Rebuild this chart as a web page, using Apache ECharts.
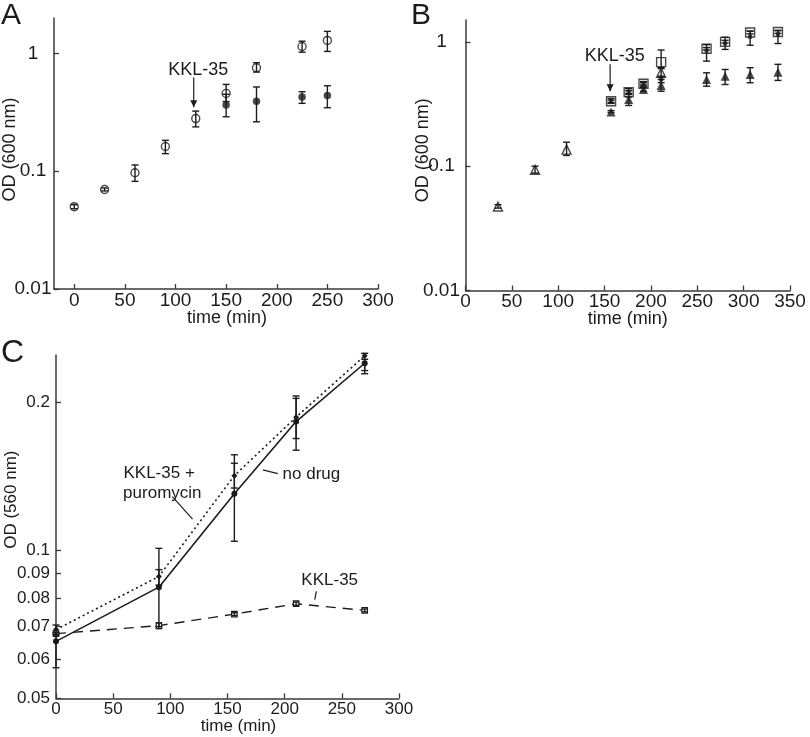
<!DOCTYPE html>
<html><head><meta charset="utf-8">
<script src="https://cdn.jsdelivr.net/npm/echarts@6/dist/echarts.min.js"></script>
<style>html,body{margin:0;padding:0;background:#fff}#c{width:810px;height:737px}</style>
</head><body><div id="c"></div>
<script>
// ---------- Panel A ----------
const timeA = [0, 30, 60, 90, 120, 150, 180, 225, 250];
const odA_control = [0.050, 0.070, 0.097, 0.162, 0.280, 0.458, 0.756, 1.146, 1.29];
const odA_control_lo = [0.048, 0.068, 0.082, 0.141, 0.238, 0.39, 0.695, 1.025, 1.04];
const odA_control_hi = [0.052, 0.072, 0.113, 0.183, 0.324, 0.546, 0.834, 1.27, 1.54];
const timeA_drug = [150, 180, 225, 250];
const odA_drug = [0.365, 0.392, 0.427, 0.44];
const odA_drug_lo = [0.29, 0.263, 0.377, 0.346];
const odA_drug_hi = [0.45, 0.519, 0.473, 0.532];
const ticksA_x = [0, 50, 100, 150, 200, 250, 300];
const ticksA_y = [0.01, 0.1, 1];

// ---------- Panel B ----------
const timeB_early = [35, 75, 109, 211];
const odB_openTri = [0.0474, 0.0937, 0.136, 0.564];
const odB_openTri_lo = [0.046, 0.088, 0.122, 0.52];
const odB_openTri_hi = [0.049, 0.1, 0.156, 0.61];
const timeB_late = [157, 176, 192, 211, 260, 280, 307, 337];
const odB_openSq = [0.333, 0.394, 0.46, 0.687, 0.881, 1.0, 1.19, 1.2];
const odB_openSq_lo = [0.325, 0.385, 0.45, 0.62, 0.86, 0.98, 1.16, 1.17];
const odB_openSq_hi = [0.34, 0.405, 0.47, 0.86, 0.9, 1.03, 1.22, 1.23];
const odB_smallSq = [0.333, 0.39, 0.46, 0.5, 0.85, 0.97, 1.1, 1.15];
const odB_smallSq_lo = [0.32, 0.36, 0.44, 0.47, 0.7, 0.87, 0.94, 0.97];
const odB_smallSq_hi = [0.35, 0.42, 0.48, 0.53, 0.95, 1.09, 1.22, 1.24];
const odB_fillTri = [0.273, 0.344, 0.414, 0.446, 0.498, 0.53, 0.547, 0.571];
const odB_fillTri_lo = [0.27, 0.308, 0.40, 0.401, 0.44, 0.454, 0.469, 0.49];
const odB_fillTri_hi = [0.28, 0.377, 0.43, 0.498, 0.564, 0.6, 0.62, 0.66];
const ticksB_x = [0, 50, 100, 150, 200, 250, 300, 350];
const ticksB_y = [0.01, 0.1, 1];

// ---------- Panel C ----------
const timeC = [0, 90, 156, 210, 270];
const odC_noDrug = [0.0653, 0.0842, 0.1304, 0.183, 0.2405];
const odC_noDrug_lo = [0.0577, 0.070, 0.1044, 0.160, 0.229];
const odC_noDrug_hi = [0.068, 0.101, 0.1566, 0.2063, 0.245];
const odC_kklPuro = [0.069, 0.0885, 0.142, 0.1868, 0.249];
const odC_kklPuro_lo = [0.0675, 0.085, 0.134, 0.169, 0.2324];
const odC_kklPuro_hi = [0.0705, 0.0914, 0.1505, 0.204, 0.252];
const odC_kkl = [0.0677, 0.0703, 0.0742, 0.0779, 0.0755];
const odC_kkl_lo = [0.0672, 0.0693, 0.0737, 0.0773, 0.0750];
const odC_kkl_hi = [0.0682, 0.0712, 0.0747, 0.0785, 0.0760];
const ticksC_x = [0, 50, 100, 150, 200, 250, 300];
const ticksC_y = [0.05, 0.06, 0.07, 0.08, 0.09, 0.1, 0.2];

const FONT = 'Liberation Sans, Arial, sans-serif';
const INK = '#1c1c1c';
const AXC = '#3a3a3a';

function zip(xs, ys) { return xs.map((x, i) => [x, ys[i]]); }
function fmt(v) { return String(Number(Number(v).toPrecision(6))); }

function errSeries(axisIdx, xs, lo, hi, cap) {
  return {
    type: 'custom', xAxisIndex: axisIdx, yAxisIndex: axisIdx, z: 5, clip: false,
    encode: { x: 0, y: [1, 2] },
    data: xs.map((x, i) => [x, lo[i], hi[i]]),
    renderItem: function (params, api) {
      const a = api.coord([api.value(0), api.value(1)]);
      const b = api.coord([api.value(0), api.value(2)]);
      const st = { stroke: INK, lineWidth: 1.4 };
      return { type: 'group', children: [
        { type: 'line', shape: { x1: a[0], y1: a[1], x2: b[0], y2: b[1] }, style: st },
        { type: 'line', shape: { x1: a[0] - cap, y1: a[1], x2: a[0] + cap, y2: a[1] }, style: st },
        { type: 'line', shape: { x1: b[0] - cap, y1: b[1], x2: b[0] + cap, y2: b[1] }, style: st }
      ]};
    }
  };
}

function annotSeries(axisIdx, items, fontSize) {
  return {
    type: 'custom', xAxisIndex: axisIdx, yAxisIndex: axisIdx, z: 6, clip: false,
    encode: { x: 0, y: 1 },
    data: items.map(it => [it.x, it.y]),
    renderItem: function (params, api) {
      const it = items[params.dataIndex];
      if (it.kind === 'text') {
        const p = api.coord([it.x, it.y]);
        return { type: 'text', x: p[0], y: p[1], style: { text: it.text, fill: INK, font: fontSize + 'px ' + FONT, textAlign: 'center', textVerticalAlign: 'middle' } };
      }
      const p1 = api.coord([it.x, it.y]);
      const p2 = api.coord([it.x2, it.y2]);
      const children = [{ type: 'line', shape: { x1: p1[0], y1: p1[1], x2: p2[0], y2: p2[1] }, style: { stroke: INK, lineWidth: 1.2 } }];
      if (it.kind === 'arrow') {
        children.push({ type: 'polygon', shape: { points: [[p2[0] - 3.5, p2[1] - 7], [p2[0] + 3.5, p2[1] - 7], [p2[0], p2[1]]] }, style: { fill: INK } });
      }
      return { type: 'group', children };
    }
  };
}

const annotA = [
  { kind: 'text', text: 'KKL-35', x: 122.5, y: 0.718 },
  { kind: 'arrow', x: 118, y: 0.626, x2: 118, y2: 0.35 }
];
const annotB = [
  { kind: 'text', text: 'KKL-35', x: 161, y: 0.764 },
  { kind: 'arrow', x: 156, y: 0.66, x2: 156, y2: 0.40 }
];
const annotC = [
  { kind: 'text', text: 'KKL-35 +', x: 90.2, y: 0.1437 },
  { kind: 'text', text: 'puromycin', x: 93, y: 0.1308 },
  { kind: 'line', x: 101.8, y: 0.1287, x2: 119.4, y2: 0.1158 },
  { kind: 'text', text: 'no drug', x: 223.4, y: 0.1432 },
  { kind: 'line', x: 180.9, y: 0.1459, x2: 194, y2: 0.1434 },
  { kind: 'text', text: 'KKL-35', x: 239.4, y: 0.0869 },
  { kind: 'line', x: 227.7, y: 0.0825, x2: 226.3, y2: 0.0794 }
];

function xAxis(gi, min, max, ticks, fs, nfs, name, margin, gap, shift) {
  return {
    type: 'value', gridIndex: gi, min, max,
    name, nameLocation: 'middle', nameGap: gap, nameMoveOverlap: false,
    nameTextStyle: { fontFamily: FONT, fontSize: nfs, color: INK, padding: [0, 0, 0, shift] },
    axisLine: { show: true, onZero: false, lineStyle: { color: AXC, width: 1.5 } },
    axisTick: { show: true, inside: true, length: 5, customValues: ticks, lineStyle: { color: AXC, width: 1.3 } },
    axisLabel: { customValues: ticks, fontFamily: FONT, fontSize: fs, color: INK, margin, formatter: v => fmt(v) },
    splitLine: { show: false }
  };
}
function yAxis(gi, min, max, ticks, fs, nfs, name, margin, gap, align, shift) {
  return {
    type: 'log', logBase: 10, gridIndex: gi, min, max,
    name, nameLocation: 'middle', nameGap: gap, nameMoveOverlap: false,
    nameTextStyle: { fontFamily: FONT, fontSize: nfs, color: INK, padding: [0, 0, 0, shift] },
    axisLine: { show: true, onZero: false, lineStyle: { color: AXC, width: 1.5 } },
    axisTick: { show: true, inside: true, length: 5, customValues: ticks, lineStyle: { color: AXC, width: 1.3 } },
    axisLabel: { customValues: ticks, fontFamily: FONT, fontSize: fs, color: INK, margin, align, formatter: v => fmt(v) },
    minorTick: { show: false },
    splitLine: { show: false }
  };
}

const openStyle = { color: 'rgba(255,255,255,0)', borderColor: INK, borderWidth: 1.4 };
const fillStyle = { color: INK, borderColor: INK, borderWidth: 0 };

const option = {
  animation: false,
  backgroundColor: '#fff',
  grid: [
    { left: 54, top: 18, width: 324, height: 271, outerBoundsMode: 'none', containLabel: false },
    { left: 465.5, top: 20, width: 324.5, height: 270.5, outerBoundsMode: 'none', containLabel: false },
    { left: 56, top: 355, width: 343, height: 343.3, outerBoundsMode: 'none', containLabel: false }
  ],
  xAxis: [
    xAxis(0, -20, 300, ticksA_x, 19, 18, 'time (min)', 2, 20, 22),
    xAxis(1, 0, 350, ticksB_x, 19, 18, 'time (min)', 2, 20, 0),
    xAxis(2, 0, 300, ticksC_x, 17, 17, 'time (min)', 3, 20, 22)
  ],
  yAxis: [
    yAxis(0, 0.01, 2, ticksA_y, 19, 18, 'OD (600 nm)', 21, 35, 'center', 8),
    yAxis(1, 0.01, 1.5, ticksB_y, 19, 18, 'OD (600 nm)', 24, 33, 'center', 10),
    yAxis(2, 0.05, 0.25, ticksC_y, 17, 17, 'OD (560 nm)', 6, 36, 'right', 54)
  ],
  graphic: [
    { type: 'text', left: 1, top: 1, style: { text: 'A', font: '30px ' + FONT, fill: INK } },
    { type: 'text', left: 411, top: 1, style: { text: 'B', font: '30px ' + FONT, fill: INK } },
    { type: 'text', left: 1, top: 337, style: { text: 'C', font: '32px ' + FONT, fill: INK } }
  ],
  series: [
    // Panel A
    errSeries(0, timeA, odA_control_lo, odA_control_hi, 3.5),
    errSeries(0, timeA_drug, odA_drug_lo, odA_drug_hi, 3.5),
    { type: 'scatter', xAxisIndex: 0, yAxisIndex: 0, symbol: 'circle', symbolSize: 8, z: 4, itemStyle: openStyle, data: zip(timeA, odA_control) },
    { type: 'scatter', xAxisIndex: 0, yAxisIndex: 0, symbol: 'circle', symbolSize: 7.5, z: 4, itemStyle: fillStyle, data: zip(timeA_drug, odA_drug) },
    annotSeries(0, annotA, 18),
    // Panel B
    errSeries(1, timeB_early, odB_openTri_lo, odB_openTri_hi, 3.5),
    errSeries(1, timeB_late, odB_openSq_lo, odB_openSq_hi, 3.5),
    errSeries(1, timeB_late, odB_smallSq_lo, odB_smallSq_hi, 3.5),
    errSeries(1, timeB_late, odB_fillTri_lo, odB_fillTri_hi, 3.5),
    { type: 'scatter', xAxisIndex: 1, yAxisIndex: 1, symbol: 'triangle', symbolSize: 9, z: 4, itemStyle: openStyle, data: zip(timeB_early, odB_openTri) },
    { type: 'scatter', xAxisIndex: 1, yAxisIndex: 1, symbol: 'rect', symbolSize: 9, z: 4, itemStyle: openStyle, data: zip(timeB_late, odB_openSq) },
    { type: 'scatter', xAxisIndex: 1, yAxisIndex: 1, symbol: 'rect', symbolSize: 4, z: 4, itemStyle: fillStyle, data: zip(timeB_late, odB_smallSq) },
    { type: 'scatter', xAxisIndex: 1, yAxisIndex: 1, symbol: 'triangle', symbolSize: 9, z: 4, itemStyle: fillStyle, data: zip(timeB_late, odB_fillTri) },
    annotSeries(1, annotB, 18),
    // Panel C
    errSeries(2, timeC, odC_noDrug_lo, odC_noDrug_hi, 3.5),
    errSeries(2, timeC, odC_kklPuro_lo, odC_kklPuro_hi, 3.5),
    errSeries(2, timeC, odC_kkl_lo, odC_kkl_hi, 3),
    { type: 'line', name: 'no drug', xAxisIndex: 2, yAxisIndex: 2, symbol: 'circle', symbolSize: 6, showSymbol: true, z: 4,
      lineStyle: { color: INK, width: 1.6, type: 'solid' }, itemStyle: fillStyle, data: zip(timeC, odC_noDrug) },
    { type: 'line', name: 'KKL-35 + puromycin', xAxisIndex: 2, yAxisIndex: 2, symbol: 'diamond', symbolSize: 6, showSymbol: true, z: 4,
      lineStyle: { color: INK, width: 1.6, type: [2, 3] }, itemStyle: fillStyle, data: zip(timeC, odC_kklPuro) },
    { type: 'line', name: 'KKL-35', xAxisIndex: 2, yAxisIndex: 2, symbol: 'rect', symbolSize: 5.5, showSymbol: true, z: 4,
      lineStyle: { color: INK, width: 1.4, type: [10, 7] }, itemStyle: { color: '#fff', borderColor: INK, borderWidth: 1.2 }, data: zip(timeC, odC_kkl) },
    annotSeries(2, annotC, 17)
  ]
};

const chart = echarts.init(document.getElementById('c'), null, { renderer: 'canvas' });
chart.setOption(option);
</script></body></html>
